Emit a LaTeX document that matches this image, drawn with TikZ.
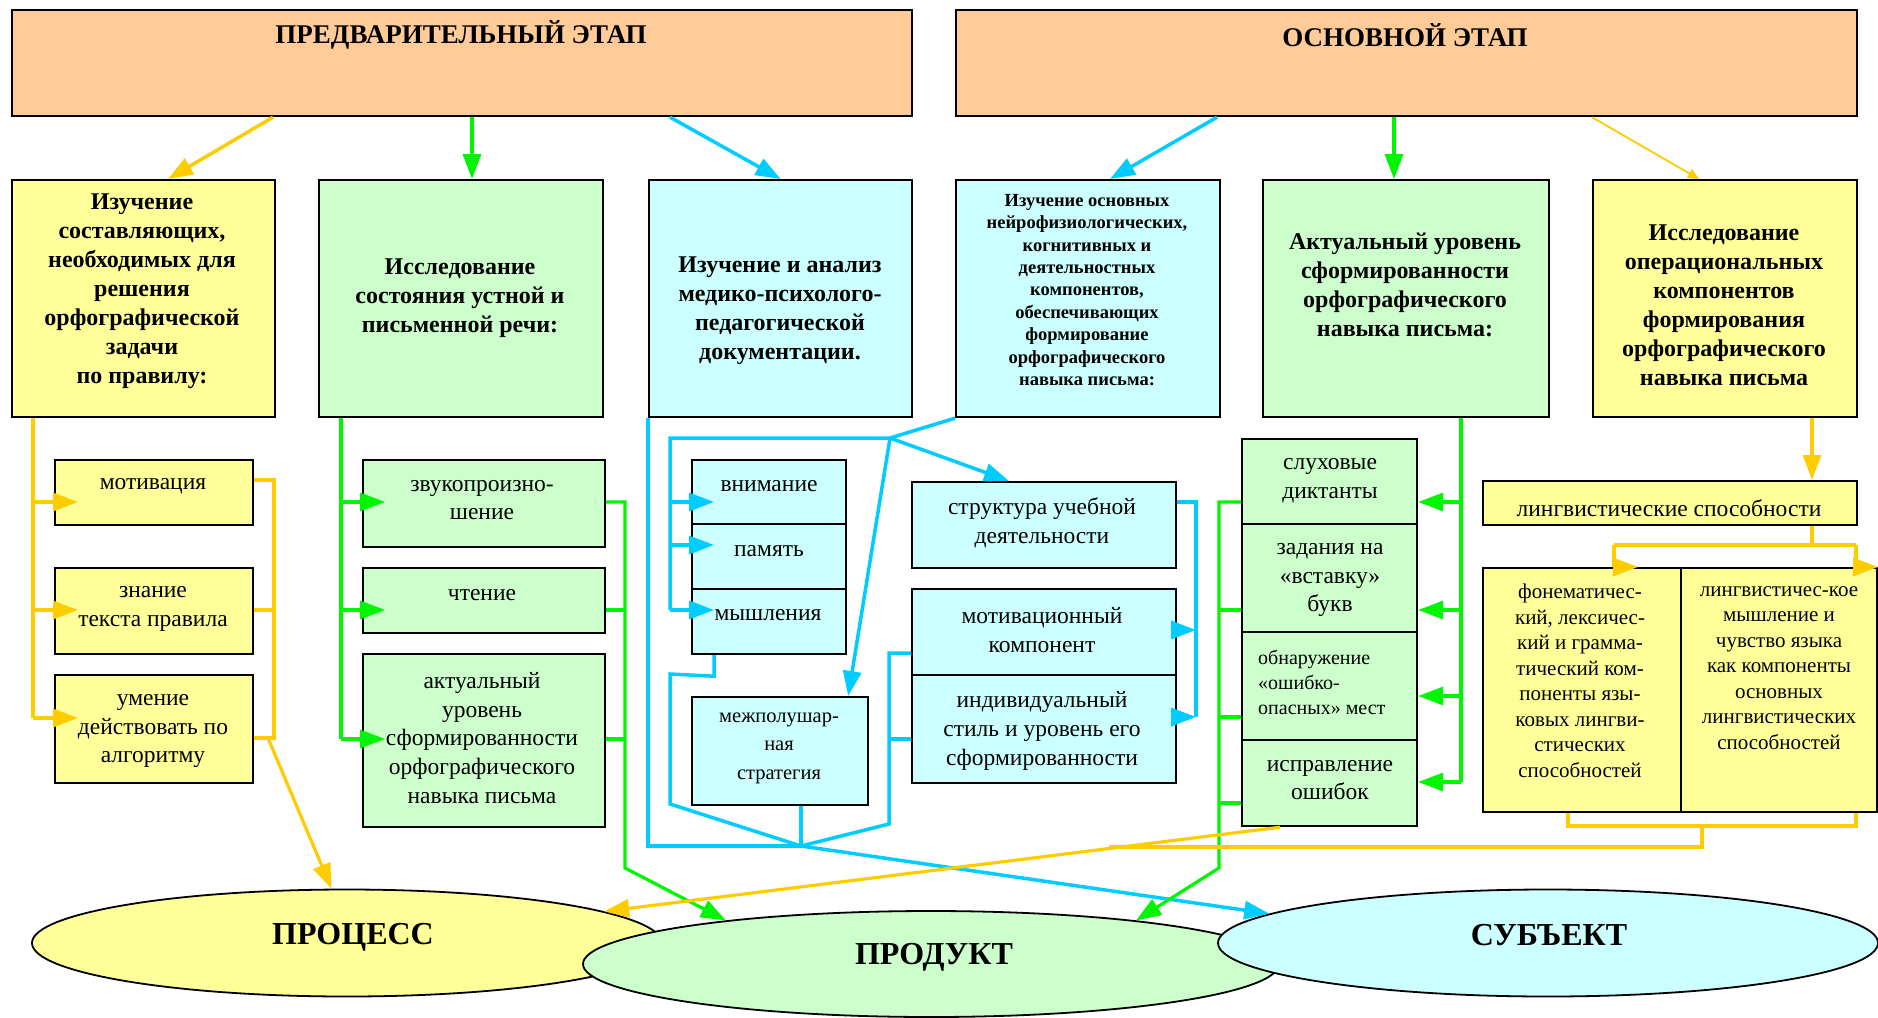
\documentclass[tikz,border=0pt]{standalone}
\usepackage{fontspec}
\setmainfont{Liberation Serif}
\usetikzlibrary{arrows.meta,shapes.geometric,calc}
\definecolor{fpeach}{RGB}{255,204,153}
\definecolor{fyel}{RGB}{255,255,153}
\definecolor{fgrn}{RGB}{204,255,204}
\definecolor{fcyan}{RGB}{204,255,255}
\definecolor{lyel}{RGB}{255,204,0}
\definecolor{lgrn}{RGB}{0,245,0}
\definecolor{lcyan}{RGB}{0,204,255}
\begin{document}
\begin{tikzpicture}[x=1pt,y=-1pt,
  box/.style={draw=black,line width=2.2pt,inner sep=0pt,anchor=north west},
  ell/.style={ellipse,draw=black,line width=1.8pt,inner sep=0pt},
  ttl/.style={font=\bfseries\fontsize{27}{31}\selectfont,inner sep=0pt,yshift=-2pt},
  hb/.style={font=\bfseries\fontsize{24}{29}\selectfont,align=center,inner sep=0pt},
  hs/.style={font=\bfseries\fontsize{18.5}{22.4}\selectfont,align=center,inner sep=0pt},
  tx/.style={font=\fontsize{23.5}{28.7}\selectfont,align=center,inner sep=0pt,yshift=-3pt},
  tsa/.style={font=\fontsize{20.5}{28.5}\selectfont,align=center,inner sep=0pt,yshift=-2pt},
  tsb/.style={font=\fontsize{20}{25}\selectfont,align=left,inner sep=0pt,anchor=west,yshift=-2pt},
  tl/.style={font=\fontsize{21}{25.5}\selectfont,align=center,inner sep=0pt,yshift=-2pt},
  et/.style={font=\bfseries\fontsize{32}{36}\selectfont,inner sep=0pt,yshift=-2pt},
  yl/.style={draw=lyel,line width=3.2pt},
  gl/.style={draw=lgrn,line width=3.2pt},
  cl/.style={draw=lcyan,line width=3.5pt},
  arr/.style={-{Triangle[length=25pt,width=18pt]}},
  sarr/.style={-{Triangle[length=11pt,width=10pt]}}]
\useasboundingbox (0,0) rectangle (1878,1017);
\fill[white] (0,0) rectangle (1878,1017);

% boxes
\node[box,fill=fpeach,minimum width=900pt,minimum height=106pt] (pre) at (11,9) {};
\node[box,fill=fpeach,minimum width=901pt,minimum height=106pt] (osn) at (955,9) {};
\node[box,fill=fyel,minimum width=263pt,minimum height=237pt] (y1) at (11,179) {};
\node[box,fill=fgrn,minimum width=284pt,minimum height=237pt] (g1) at (318,179) {};
\node[box,fill=fcyan,minimum width=263pt,minimum height=237pt] (c1) at (648,179) {};
\node[box,fill=fcyan,minimum width=264pt,minimum height=237pt] (c2) at (955,179) {};
\node[box,fill=fgrn,minimum width=286pt,minimum height=237pt] (g2) at (1262,179) {};
\node[box,fill=fyel,minimum width=264pt,minimum height=237pt] (y2) at (1592,179) {};
\node[box,fill=fyel,minimum width=198pt,minimum height=65pt] (mot) at (54,459) {};
\node[box,fill=fyel,minimum width=198pt,minimum height=86pt] (zn) at (54,567) {};
\node[box,fill=fyel,minimum width=198pt,minimum height=108pt] (um) at (54,674) {};
\node[box,fill=fgrn,minimum width=242pt,minimum height=87pt] (zv) at (362,459) {};
\node[box,fill=fgrn,minimum width=242pt,minimum height=65pt] (cht) at (362,567) {};
\node[box,fill=fgrn,minimum width=242pt,minimum height=173pt] (akt) at (362,653) {};
\node[box,fill=fcyan,minimum width=154pt,minimum height=64pt] (vn) at (691,459) {};
\node[box,fill=fcyan,minimum width=154pt,minimum height=65pt] (pam) at (691,523) {};
\node[box,fill=fcyan,minimum width=154pt,minimum height=65pt] (mys) at (691,588) {};
\node[box,fill=fcyan,minimum width=176pt,minimum height=108pt] (mezh) at (691,696) {};
\node[box,fill=fcyan,minimum width=264pt,minimum height=86pt] (str) at (911,481) {};
\node[box,fill=fcyan,minimum width=264pt,minimum height=86pt] (motk) at (911,588) {};
\node[box,fill=fcyan,minimum width=264pt,minimum height=108pt] (ind) at (911,674) {};
\node[box,fill=fgrn,minimum width=175pt,minimum height=85pt] (sl) at (1241,438) {};
\node[box,fill=fgrn,minimum width=175pt,minimum height=108pt] (zad) at (1241,523) {};
\node[box,fill=fgrn,minimum width=175pt,minimum height=108pt] (obn) at (1241,631) {};
\node[box,fill=fgrn,minimum width=175pt,minimum height=86pt] (isp) at (1241,739) {};
\node[box,fill=fyel,minimum width=374pt,minimum height=44pt] (ling) at (1482,480) {};
\node[box,fill=fyel,minimum width=198pt,minimum height=244pt] (bl) at (1482,567) {};
\node[box,fill=fyel,minimum width=196pt,minimum height=244pt] (br) at (1680,567) {};

% ellipses
\node[ell,fill=fyel,minimum width=630pt,minimum height=107pt] (proc) at (347,943) {};
\node[ell,fill=fgrn,minimum width=696pt,minimum height=106pt] (prod) at (931,964) {};
\node[ell,fill=fcyan,minimum width=660pt,minimum height=107pt] (subj) at (1548,943) {};

% top arrows
\draw[yl,line width=3.5pt,arr] ($(pre.south west)+(262,0)$) -- ($(y1.north west)+(157,0)$);
\draw[gl,line width=3.5pt,arr] ($(pre.south west)+(461,0)$) -- ($(g1.north west)+(154,0)$);
\draw[cl,arr] ($(pre.south west)+(659,0)$) -- (c1.north);
\draw[cl,arr] ($(osn.south west)+(262,0)$) -- ($(c2.north west)+(155,0)$);
\draw[gl,line width=3.5pt,arr] ($(osn.south west)+(439,0)$) -- ($(g2.north west)+(132,0)$);
\draw[yl,line width=1.8pt,sarr] ($(osn.south west)+(637,0)$) -- ($(y2.north west)+(107,0)$);

% column 1 (yellow)
\coordinate (ya) at (33,502); \coordinate (yb) at (33,610); \coordinate (yc) at (33,718);
\draw[yl] (y1.south -| ya) -- (yc);
\draw[yl,arr] (ya) -- ($(mot.west |- ya)+(24,0)$);
\draw[yl,arr] (yb) -- ($(zn.west |- yb)+(24,0)$);
\draw[yl,arr] (yc) -- ($(um.west |- yc)+(24,0)$);
\coordinate (yr1) at (274,480); \coordinate (yr2) at (274,610); \coordinate (yr3) at (274,738);
\draw[yl] (mot.east |- yr1) -- (yr1) -- (yr3) -- (um.east |- yr3);
\draw[yl] (zn.east |- yr2) -- (yr2);
\draw[yl,arr] ($(yr3)+(-6,0)$) -- (proc.106);

% column 2 (green)
\coordinate (ga) at (341,502); \coordinate (gb) at (341,610); \coordinate (gc) at (341,739);
\draw[gl] (g1.south -| ga) -- (gc);
\draw[gl,arr] (ga) -- ($(zv.west |- ga)+(23,0)$);
\draw[gl,arr] (gb) -- ($(cht.west |- gb)+(23,0)$);
\draw[gl,arr] (gc) -- ($(akt.west |- gc)+(23,0)$);
\coordinate (gr1) at (625,502); \coordinate (gr2) at (625,610); \coordinate (gr3) at (625,739); \coordinate (gr4) at (625,868);
\draw[gl,arr] (zv.east |- gr1) -- (gr1) -- (gr4) -- (prod.168);
\draw[gl] (cht.east |- gr2) -- (gr2);
\draw[gl] (akt.east |- gr3) -- (gr3);

% column 3/4 (cyan)
\coordinate (cj) at (890,438); \coordinate (cl0) at (670,438);
\coordinate (ca) at (670,502); \coordinate (cb) at (670,545); \coordinate (cc) at (670,610);
\draw[cl] (c2.south west) -- (cj) -- (cl0) -- (cc);
\draw[cl,arr] (ca) -- ($(vn.west |- ca)+(23,0)$);
\draw[cl,arr] (cb) -- ($(pam.west |- cb)+(23,0)$);
\draw[cl,arr] (cc) -- ($(mys.west |- cc)+(23,0)$);
\draw[cl,arr] (cj) -- ($(str.north west)+(98,0)$);
\draw[cl,arr] (cj) -- ($(mezh.north east)+(-21,0)$);
\coordinate (cbj) at (801,846);
\coordinate (cm1) at (670,674); \coordinate (cm2) at (670,804);
\draw[cl] (c1.south west) -- (c1.south west |- cbj) -- (cbj);
\draw[cl] ($(mys.south west)+(23,0)$) -- ($(mys.south west)+(23,21)$) -- (cm1) -- (cm2) -- (cbj);
\draw[cl] ($(mezh.south west)+(110,0)$) -- (cbj);
\coordinate (cq1) at (889,653); \coordinate (cq2) at (889,739); \coordinate (cq3) at (889,824);
\draw[cl] (motk.west |- cq1) -- (cq1) -- (cq3) -- (cbj);
\draw[cl] (ind.west |- cq2) -- (cq2);
\draw[cl,arr] (cbj) -- (subj.174);
\coordinate (cr0) at (1196,502); \coordinate (cr1) at (1196,630); \coordinate (cr2) at (1196,717);
\draw[cl] (str.east |- cr0) -- (cr0) -- (cr2);
\draw[cl,arr] (motk.east |- cr1) -- (cr1);
\draw[cl,arr] (ind.east |- cr2) -- (cr2);

% column 5 (green)
\coordinate (gs1) at (1461,502); \coordinate (gs2) at (1461,610); \coordinate (gs3) at (1461,696); \coordinate (gs4) at (1461,782);
\draw[gl] ($(g2.south west)+(199,0)$) -- (gs4);
\draw[gl,arr] (gs1) -- (sl.east |- gs1);
\draw[gl,arr] (gs2) -- (zad.east |- gs2);
\draw[gl,arr] (gs3) -- (obn.east |- gs3);
\draw[gl,arr] (gs4) -- (isp.east |- gs4);
\coordinate (gl1) at (1219,502); \coordinate (gl2) at (1219,610); \coordinate (gl3) at (1219,717); \coordinate (gl4) at (1219,803); \coordinate (gl5) at (1219,868);
\draw[gl,arr] (sl.west |- gl1) -- (gl1) -- (gl5) -- (prod.12);
\draw[gl] (zad.west |- gl2) -- (gl2);
\draw[gl] (obn.west |- gl3) -- (gl3);
\draw[gl] (isp.west |- gl4) -- (gl4);

% column 6 (yellow)
\draw[yl,arr] ($(y2.south west)+(220,0)$) -- ($(ling.north west)+(330,0)$);
\coordinate (lj) at (1812,545); \coordinate (ll) at (1614,545); \coordinate (lr) at (1856,545);
\coordinate (ll2) at (1614,567); \coordinate (lr2) at (1856,567);
\draw[yl] ($(ling.south west)+(330,0)$) -- (lj);
\draw[yl] (ll) -- (lr);
\draw[yl,arr] (ll) -- (ll2) -- ++(24,0);
\draw[yl,arr] (lr) -- (lr2) -- ++(22,0);
\coordinate (lb1) at (1568,826); \coordinate (lb2) at (1856,826);
\coordinate (lbm) at (1702,826); \coordinate (lbm2) at (1702,847); \coordinate (lbj) at (1109,847);
\draw[yl] ($(bl.south west)+(86,0)$) -- (lb1) -- (lb2) -- ($(br.south west)+(176,0)$);
\draw[yl] (lbm) -- (lbm2) -- (lbj);
\draw[yl,arr] ($(isp.south west)+(39,0)$) -- (proc.7);

% texts
\node[ttl] (pret) at (461,33) {ПРЕДВАРИТЕЛЬНЫЙ ЭТАП};
\node[ttl] (osnt) at (1405,33) {ОСНОВНОЙ ЭТАП};
\node[hb] (y1t) at (142,291) {Изучение\\составляющих,\\необходимых для\\решения\\орфографической\\задачи\\по правилу:};
\node[hb] (g1t) at (460,298) {Исследование\\состояния устной и\\письменной речи:};
\node[hb] (c1t) at (780,311) {Изучение и анализ\\медико-психолого-\\педагогической\\документации.};
\node[hs] (c2t) at (1087,290) {Изучение основных\\нейрофизиологических,\\когнитивных и\\деятельностных\\компонентов,\\обеспечивающих\\формирование\\орфографического\\навыка письма:};
\node[hb] (g2t) at (1405,285) {Актуальный уровень\\сформированности\\орфографического\\навыка письма:};
\node[hb] (y2t) at (1724,305) {Исследование\\операциональных\\компонентов\\формирования\\орфографического\\навыка письма};
\node[tx] (mott) at (153,483) {мотивация};
\node[tx] (znt) at (153,606) {знание\\текста правила};
\node[tx] (umt) at (153,728) {умение\\действовать по\\алгоритму};
\node[tx] (zvt) at (482,497) {звукопроизно-\\шение};
\node[tx] (chtt) at (482,592) {чтение};
\node[tx] (aktt) at (482,735) {актуальный\\уровень\\сформированности\\орфографического\\навыка письма};
\node[tx] (vnt) at (769,483) {внимание};
\node[tx] (pamt) at (769,548) {память};
\node[tx] (myst) at (768,612) {мышления};
\node[tsa] (mezht) at (779,746) {межполушар-\\ная\\стратегия};
\node[tx] (strt) at (1042,520) {структура учебной\\деятельности};
\node[tx] (motkt) at (1042,627) {мотивационный\\компонент};
\node[tx] (indt) at (1042,728) {индивидуальный\\стиль и уровень его\\сформированности};
\node[tx] (slt) at (1330,478) {слуховые\\диктанты};
\node[tx] (zadt) at (1330,577) {задания на\\«вставку»\\букв};
\node[tsb] (obnt) at (1258,680) {обнаружение\\«ошибко-\\опасных» мест};
\node[tx] (ispt) at (1330,777) {исправление\\ошибок};
\node[tx] (lingt) at (1669,505) {лингвистические способности};
\node[tl] (blt) at (1580,679) {фонематичес-\\кий, лексичес-\\кий и грамма-\\тический ком-\\поненты язы-\\ковых лингви-\\стических\\способностей};
\node[tl] (brt) at (1779,666) {лингвистичес-кое\\мышление и\\чувство языка\\как компоненты\\основных\\лингвистических\\способностей};
\node[et] (proct) at (353,935) {ПРОЦЕСС};
\node[et] (prodt) at (934,955) {ПРОДУКТ};
\node[et] (subjt) at (1549,933) {СУБЪЕКТ};
\end{tikzpicture}
\end{document}
